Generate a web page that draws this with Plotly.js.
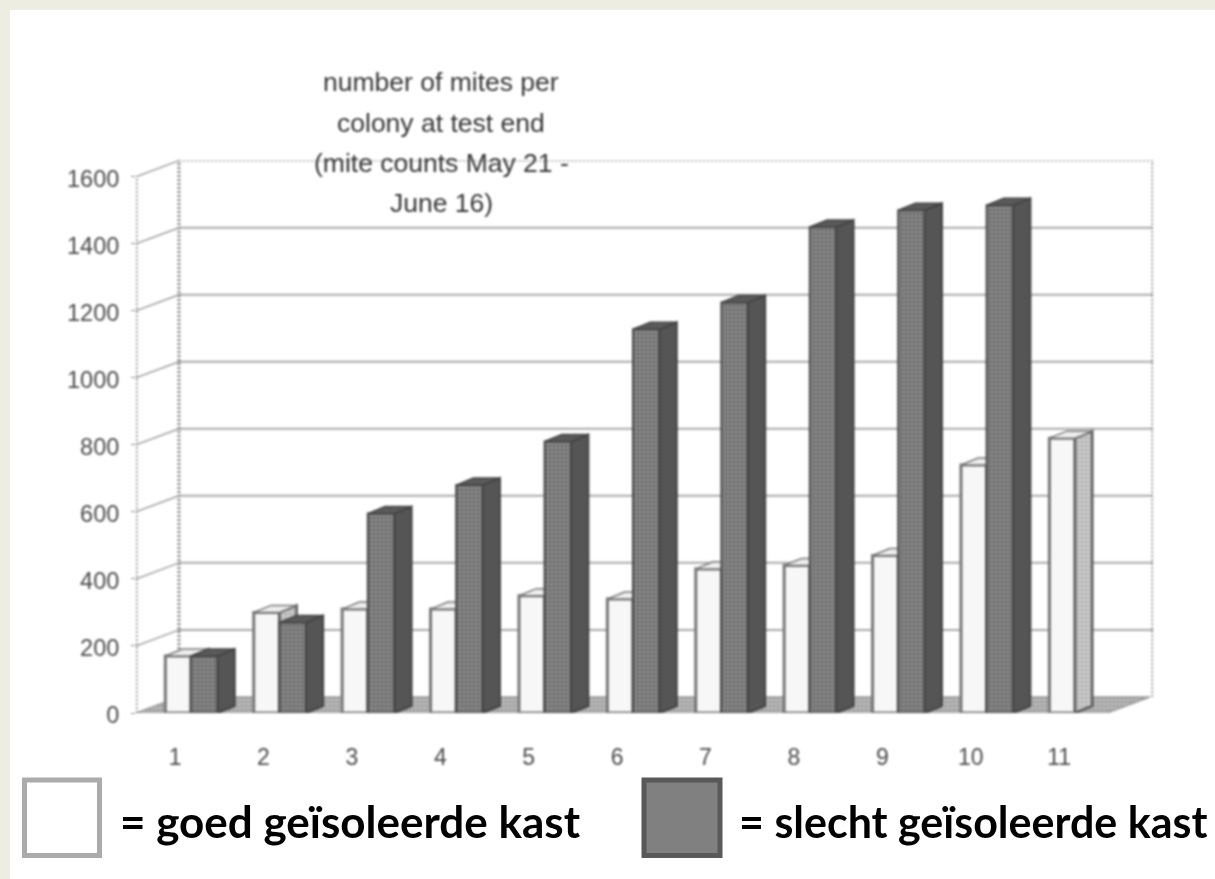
<!DOCTYPE html>
<html>
<head>
<meta charset="utf-8">
<script src="https://cdn.plot.ly/plotly-3.0.1.min.js"></script>
<style>
html,body{margin:0;padding:0;background:#EEEDE1;overflow:hidden}
#chart{width:1215px;height:879px}
</style>
</head>
<body>
<div id="chart"></div>
<script>
// ---- values ----
const categories = [1,2,3,4,5,6,7,8,9,10,11];
const tickLabels = ['1','2','3','4','5','6','7','8','9','10','11'];
const whiteValues = [170,300,310,310,350,340,430,440,470,740,820];
const darkValues  = [170,270,595,680,810,1145,1225,1450,1500,1515,null];
const yTicks = [0,200,400,600,800,1000,1200,1400,1600];
const titleLines = ['number of mites per','colony at test end','(mite counts May 21 -','June 16)'];
const legendWhite = '= goed geïsoleerde kast';
const legendDark = '= slecht geïsoleerde kast';

// ---- pseudo-3D geometry, in axis units ----
const xRange = [0.378, 11.882], yRange = [0, 1650];
const wallDx = 0.486, wallDy = 48, frontRight = 11.362;
const barDx = 0.195, barDy = 21, whiteW = 0.29, darkW = 0.30, labelShift = -0.18;

function polys(list){ const x=[],y=[]; list.forEach(p=>{p.forEach(q=>{x.push(q[0]);y.push(q[1]);});x.push(null);y.push(null);}); return {x,y}; }
function sides(vals,off){ const out=[]; vals.forEach((v,k)=>{ if(v==null) return; const a=categories[k]+off;
  out.push([[a,0],[a+barDx,barDy],[a+barDx,v+barDy],[a,v],[a,0]]); }); return polys(out); }
function tops(vals,off,w){ const out=[]; vals.forEach((v,k)=>{ if(v==null) return; const a=categories[k]+off;
  out.push([[a-w,v],[a-w+barDx,v+barDy],[a+barDx,v+barDy],[a,v],[a-w,v]]); }); return polys(out); }
function segs(list){ const x=[],y=[]; list.forEach(s=>{x.push(s[0][0],s[1][0],null);y.push(s[0][1],s[1][1],null);}); return {x,y}; }

const L = xRange[0], B = L+wallDx, R = xRange[1];
const inner = yTicks.filter(v=>v<1600 && v>0);
const grid = segs(inner.map(v=>[[B,v+wallDy],[R,v+wallDy]]));
const conn = segs(yTicks.filter(v=>v>0).map(v=>[[L,v],[B,v+wallDy]]));
const topLine = segs([[[B,1600+wallDy],[R,1600+wallDy]]]);
const walls = segs([[[L,0],[L,1600]],[[B,wallDy],[B,1600+wallDy]],[[R,wallDy],[R,1600+wallDy]]]);
const floor = polys([[[L,0],[frontRight,0],[frontRight+wallDx,wallDy],[B,wallDy],[L,0]]]);

const wS = sides(whiteValues,0), wT = tops(whiteValues,0,whiteW);
const dS = sides(darkValues,darkW), dT = tops(darkValues,darkW,darkW);
const line=(c,w,d)=>({color:c,width:w,dash:d||'solid'});
const base = {hoverinfo:'skip',showlegend:false};

const data = [
 {...base,type:'scatter',mode:'lines',x:floor.x,y:floor.y,fill:'toself',fillcolor:'#b0b0b0',
  fillpattern:{shape:'.',size:4,solidity:0.35,fgcolor:'#909090',bgcolor:'#bdbdbd'},line:line('#9a9a9a',1.5)},
 {...base,type:'scatter',mode:'lines',x:grid.x,y:grid.y,line:line('#a9a9a9',2)},
 {...base,type:'scatter',mode:'lines',x:conn.x,y:conn.y,line:line('#a0a0a0',1.5)},
 {...base,type:'scatter',mode:'lines',x:topLine.x,y:topLine.y,line:line('#b0b0b0',2,'2px,2px')},
 {...base,type:'scatter',mode:'lines',x:walls.x,y:walls.y,line:line('#808080',3,'2px,2px')},
 // white series
 {...base,type:'scatter',mode:'lines',xaxis:'x2',yaxis:'y2',x:wS.x,y:wS.y,fill:'toself',fillcolor:'#c2c2c2',
  fillpattern:{shape:'.',size:4,solidity:0.3,fgcolor:'#a8a8a8',bgcolor:'#cccccc'},line:line('#5c5c5c',2.5)},
 {...base,type:'scatter',mode:'lines',xaxis:'x2',yaxis:'y2',x:wT.x,y:wT.y,fill:'toself',fillcolor:'#eeeeee',line:line('#777',1.5)},
 {...base,type:'bar',xaxis:'x2',yaxis:'y2',x:categories,y:whiteValues,width:whiteW,offset:-whiteW,
  marker:{color:'#f7f7f7',line:{color:'#777',width:3}}},
 // dark series
 {...base,type:'scatter',mode:'lines',xaxis:'x3',yaxis:'y3',x:dS.x,y:dS.y,fill:'toself',fillcolor:'#555555',line:line('#444',2)},
 {...base,type:'scatter',mode:'lines',xaxis:'x3',yaxis:'y3',x:dT.x,y:dT.y,fill:'toself',fillcolor:'#5a5a5a',line:line('#444',1.5)},
 {...base,type:'bar',xaxis:'x3',yaxis:'y3',x:categories,y:darkValues,width:darkW,offset:0,
  marker:{color:'#7c7c7c',pattern:{shape:'.',size:4,solidity:0.3,fgcolor:'#5e5e5e',bgcolor:'#8a8a8a'},line:{color:'#4a4a4a',width:2}}}
];

// pixel helpers for page furniture only (frame, caption, legend)
const PL=136, PR=1153, PT=160, PB=713;
const px=x=>(x-PL)/(PR-PL), py=y=>(PB-y)/(PB-PT);
const box=(x0,y0,x1,y1,fill,lc,lw,layer)=>({type:'rect',xref:'paper',yref:'paper',x0:px(x0),x1:px(x1),y0:py(y1),y1:py(y0),fillcolor:fill,line:{color:lc,width:lw},layer:layer||'above'});
const hidden={range:xRange,visible:false,fixedrange:true};
const hiddenY={range:yRange,visible:false,fixedrange:true};
const titleY=[82,123,163,203];

const layout = {
 width:1215,height:879,margin:{l:PL,r:1215-PR,t:PT,b:879-PB,pad:0},autosize:false,
 paper_bgcolor:'#EEEDE1',plot_bgcolor:'rgba(0,0,0,0)',barmode:'overlay',showlegend:false,
 font:{family:'"Liberation Sans",Arial,sans-serif',color:'#555'},
 xaxis:{range:xRange,tickmode:'array',tickvals:categories.map(c=>c+labelShift),ticktext:tickLabels,
   showgrid:false,zeroline:false,showline:false,ticks:'',ticklabelstandoff:28,tickfont:{size:23,color:'#4a4a4a'},fixedrange:true},
 yaxis:{range:yRange,tickmode:'array',tickvals:yTicks,ticktext:yTicks.map(String),showgrid:false,zeroline:false,showline:false,
   ticks:'outside',ticklen:4,tickcolor:'#888',ticklabelstandoff:7,ticklabelshift:2,tickfont:{size:23.5,color:'#4a4a4a'},fixedrange:true},
 xaxis2:{...hidden,overlaying:'x',anchor:'y2'},
 yaxis2:{...hiddenY,overlaying:'y',anchor:'x2'},
 xaxis3:{...hidden,overlaying:'x',anchor:'y3'},
 yaxis3:{...hiddenY,overlaying:'y',anchor:'x3'},
 shapes:[
  box(10,10,1300,900,'#ffffff','#ffffff',0,'below'),
  box(24.5,780,99.5,855.5,'#ffffff','#ababab',5),
  box(644,780,720,855.5,'#808080','#595959',5)
 ],
 annotations:[
  ...titleLines.map((t,i)=>({text:t,xref:'paper',yref:'paper',x:px(441),y:py(titleY[i]),xanchor:'center',yanchor:'middle',showarrow:false,
     font:{size:26.5,color:'#363636',family:'"Liberation Sans",Arial,sans-serif'}})),
  {text:legendWhite,xref:'paper',yref:'paper',x:px(118),y:py(821),xanchor:'left',yanchor:'middle',showarrow:false,
     font:{size:44,color:'#000',family:'Lato,sans-serif',weight:700}},
  {text:legendDark,xref:'paper',yref:'paper',x:px(737),y:py(821),xanchor:'left',yanchor:'middle',showarrow:false,
     font:{size:43,color:'#000',family:'Lato,sans-serif',weight:700}}
 ]
};

Plotly.newPlot('chart',data,layout,{displayModeBar:false,staticPlot:true}).then(gd=>{
  const soft='blur(0.8px)';
  gd.querySelectorAll('.cartesianlayer').forEach(n=>n.style.filter=soft);
  titleLines.forEach((t,i)=>{const a=gd.querySelector('.annotation[data-index="'+i+'"]'); if(a) a.style.filter=soft;});
});
</script>
</body>
</html>
